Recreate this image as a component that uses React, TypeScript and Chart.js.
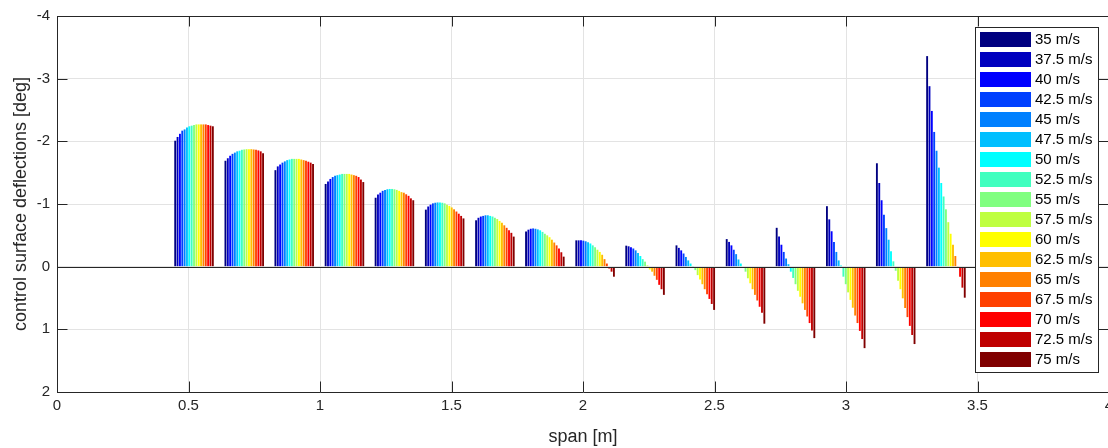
import { useEffect, useRef } from 'react';
import { Chart, registerables } from 'chart.js';

Chart.register(...registerables);

// spanwise stations [m]
const spanStations = [0.521, 0.712, 0.902, 1.093, 1.283, 1.474, 1.665, 1.855, 2.046, 2.236, 2.427, 2.618, 2.808, 2.999, 3.189, 3.38];

// flight speeds (series)
const speedLabels = ['35 m/s', '37.5 m/s', '40 m/s', '42.5 m/s', '45 m/s', '47.5 m/s', '50 m/s', '52.5 m/s', '55 m/s', '57.5 m/s', '60 m/s', '62.5 m/s', '65 m/s', '67.5 m/s', '70 m/s', '72.5 m/s', '75 m/s'];
const speedColors = ['#000080', '#0000BF', '#0000FF', '#0040FF', '#0080FF', '#00BFFF', '#00FFFF', '#40FFBF', '#80FF80', '#BFFF40', '#FFFF00', '#FFBF00', '#FF8000', '#FF4000', '#FF0000', '#BF0000', '#800000'];

// tick labels
const xTicks = [0, 0.5, 1, 1.5, 2, 2.5, 3, 3.5, 4];
const yTicks = [-4, -3, -2, -1, 0, 1, 2];

// control surface deflections [deg] at each station, one value per speed (35 ... 75 m/s)
const station01 = [-2.01, -2.07, -2.12, -2.17, -2.19, -2.22, -2.24, -2.25, -2.26, -2.27, -2.27, -2.27, -2.27, -2.27, -2.26, -2.25, -2.24];
const station02 = [-1.69, -1.73, -1.77, -1.8, -1.82, -1.84, -1.85, -1.865, -1.87, -1.875, -1.875, -1.875, -1.87, -1.865, -1.855, -1.84, -1.81];
const station03 = [-1.54, -1.6, -1.63, -1.66, -1.68, -1.7, -1.71, -1.72, -1.72, -1.72, -1.72, -1.71, -1.7, -1.69, -1.675, -1.66, -1.64];
const station04 = [-1.32, -1.36, -1.4, -1.43, -1.45, -1.46, -1.47, -1.48, -1.48, -1.48, -1.48, -1.47, -1.46, -1.45, -1.43, -1.39, -1.35];
const station05 = [-1.1, -1.15, -1.18, -1.21, -1.225, -1.235, -1.24, -1.24, -1.235, -1.225, -1.21, -1.19, -1.18, -1.155, -1.13, -1.09, -1.06];
const station06 = [-0.91, -0.96, -0.99, -1.01, -1.02, -1.025, -1.025, -1.02, -1.01, -0.99, -0.97, -0.945, -0.915, -0.88, -0.845, -0.81, -0.77];
const station07 = [-0.74, -0.78, -0.8, -0.81, -0.82, -0.82, -0.81, -0.8, -0.78, -0.76, -0.73, -0.7, -0.66, -0.62, -0.58, -0.54, -0.48];
const station08 = [-0.56, -0.59, -0.605, -0.61, -0.605, -0.595, -0.58, -0.555, -0.525, -0.5, -0.47, -0.43, -0.385, -0.34, -0.29, -0.23, -0.16];
const station09 = [-0.42, -0.42, -0.42, -0.415, -0.405, -0.39, -0.37, -0.34, -0.31, -0.27, -0.235, -0.19, -0.12, -0.05, 0.03, 0.08, 0.16];
const station10 = [-0.335, -0.325, -0.31, -0.29, -0.26, -0.22, -0.17, -0.12, -0.08, -0.02, 0.045, 0.08, 0.145, 0.21, 0.29, 0.36, 0.45];
const station11 = [-0.34, -0.3, -0.26, -0.21, -0.155, -0.1, -0.05, -0.01, 0.055, 0.135, 0.205, 0.28, 0.36, 0.44, 0.515, 0.595, 0.69];
const station12 = [-0.44, -0.395, -0.34, -0.27, -0.2, -0.115, -0.05, 0.02, 0.08, 0.185, 0.265, 0.36, 0.45, 0.54, 0.64, 0.735, 0.91];
const station13 = [-0.62, -0.48, -0.35, -0.235, -0.13, -0.04, 0.08, 0.18, 0.28, 0.385, 0.48, 0.585, 0.69, 0.795, 0.9, 1.02, 1.14];
const station14 = [-0.965, -0.755, -0.565, -0.395, -0.235, -0.1, -0.02, 0.16, 0.28, 0.41, 0.53, 0.655, 0.78, 0.9, 1.025, 1.155, 1.3];
const station15 = [-1.65, -1.335, -1.06, -0.83, -0.615, -0.43, -0.245, -0.085, 0.065, 0.225, 0.36, 0.505, 0.66, 0.805, 0.945, 1.09, 1.235];
const station16 = [-3.36, -2.88, -2.485, -2.15, -1.85, -1.58, -1.335, -1.12, -0.915, -0.71, -0.525, -0.35, -0.17, -0.01, 0.16, 0.335, 0.495];

const stationValues = [station01, station02, station03, station04, station05, station06, station07, station08, station09, station10, station11, station12, station13, station14, station15, station16];

const FONT = "'Liberation Sans', Arial, Helvetica, sans-serif";
const AXIS_COLOR = '#262626';
const GRID_COLOR = '#e3e3e3';

const overlayPlugin = {
  id: 'matlabOverlay',
  afterDatasetsDraw(chart: any) {
    const { ctx, chartArea: a, scales } = chart;
    const x = scales.x;
    const y = scales.y;
    ctx.save();
    ctx.strokeStyle = AXIS_COLOR;
    ctx.lineWidth = 1;
    // zero baseline
    const y0 = Math.round(y.getPixelForValue(0)) + 0.5;
    ctx.beginPath();
    ctx.moveTo(a.left, y0);
    ctx.lineTo(a.right, y0);
    ctx.stroke();
    // box (top/right)
    ctx.beginPath();
    ctx.moveTo(Math.round(a.left) + 0.5, Math.round(a.top) + 0.5);
    ctx.lineTo(Math.round(a.right) - 0.5, Math.round(a.top) + 0.5);
    ctx.lineTo(Math.round(a.right) - 0.5, Math.round(a.bottom) + 0.5);
    ctx.stroke();
    // inward tick marks
    const tl = 10.5;
    ctx.beginPath();
    xTicks.forEach((v) => {
      const px = Math.round(x.getPixelForValue(v)) + 0.5;
      ctx.moveTo(px, a.bottom);
      ctx.lineTo(px, a.bottom - tl);
      ctx.moveTo(px, a.top);
      ctx.lineTo(px, a.top + tl);
    });
    yTicks.forEach((v) => {
      const py = Math.round(y.getPixelForValue(v)) + 0.5;
      ctx.moveTo(a.left, py);
      ctx.lineTo(a.left + tl, py);
      ctx.moveTo(a.right, py);
      ctx.lineTo(a.right - tl, py);
    });
    ctx.stroke();
    ctx.restore();
  },
  afterDraw(chart: any) {
    const { ctx } = chart;
    const boxLeft = 975.5;
    const boxTop = 27.5;
    const boxW = 123;
    const rowH = 20;
    const boxH = 345;
    ctx.save();
    ctx.fillStyle = '#ffffff';
    ctx.fillRect(boxLeft, boxTop, boxW, boxH);
    ctx.strokeStyle = AXIS_COLOR;
    ctx.lineWidth = 1;
    ctx.strokeRect(boxLeft, boxTop, boxW, boxH);
    ctx.font = `15px ${FONT}`;
    ctx.textBaseline = 'middle';
    ctx.textAlign = 'left';
    chart.data.datasets.forEach((ds: any, i: number) => {
      const top = 32 + i * rowH;
      ctx.fillStyle = ds.backgroundColor;
      ctx.fillRect(980, top, 51, 15);
      ctx.fillStyle = '#000000';
      ctx.fillText(ds.label, 1035, top + 8);
    });
    ctx.restore();
  },
};

export default function App() {
  const canvasRef = useRef<HTMLCanvasElement | null>(null);

  useEffect(() => {
    if (!canvasRef.current) return;
    const datasets = speedLabels.map((label, k) => ({
      label,
      data: spanStations.map((x, i) => ({ x, y: stationValues[i][k] })),
      backgroundColor: speedColors[k],
      borderWidth: 0,
      barPercentage: 0.8,
      categoryPercentage: 0.8,
    }));
    const chart = new Chart(canvasRef.current, {
      type: 'bar',
      data: { datasets } as any,
      plugins: [overlayPlugin],
      options: {
        animation: false,
        responsive: false,
        devicePixelRatio: 1,
        layout: { padding: { left: 0, right: 16, top: 14, bottom: 0 } },
        plugins: { legend: { display: false }, tooltip: { enabled: false } },
        scales: {
          x: {
            type: 'linear',
            position: 'bottom',
            min: 0,
            max: 4,
            offset: false,
            grid: { offset: false, color: GRID_COLOR, drawTicks: false, lineWidth: 1 },
            border: { color: AXIS_COLOR, width: 1 },
            ticks: { padding: 5, color: AXIS_COLOR, font: { family: FONT, size: 15 }, maxRotation: 0, autoSkip: false, callback: (v: any) => String(v) },
            afterBuildTicks: (s: any) => { s.ticks = xTicks.map((v) => ({ value: v })); },
            afterFit: (s: any) => { s.height = 56; },
            title: { display: true, text: 'span [m]', color: AXIS_COLOR, font: { family: FONT, size: 18 }, padding: { top: 0, bottom: 0 } },
          },
          y: {
            type: 'linear',
            reverse: true,
            min: -4,
            max: 2,
            grid: { color: GRID_COLOR, drawTicks: false, lineWidth: 1 },
            border: { color: AXIS_COLOR, width: 1 },
            ticks: { padding: 7, color: AXIS_COLOR, font: { family: FONT, size: 15 }, callback: (v: any) => String(v) },
            afterBuildTicks: (s: any) => { s.ticks = yTicks.map((v) => ({ value: v })); },
            afterFit: (s: any) => { s.width = 57; },
            title: { display: true, text: 'control surface deflections [deg]', color: AXIS_COLOR, font: { family: FONT, size: 18 }, padding: { top: 10, bottom: 0 } },
          },
        },
      } as any,
    });
    return () => chart.destroy();
  }, []);

  return (
    <div style={{ position: 'fixed', left: 0, top: 0, width: 1108, height: 448, overflow: 'hidden', background: '#ffffff' }}>
      <canvas ref={canvasRef} width={1125} height={448} style={{ display: 'block' }} />
    </div>
  );
}
